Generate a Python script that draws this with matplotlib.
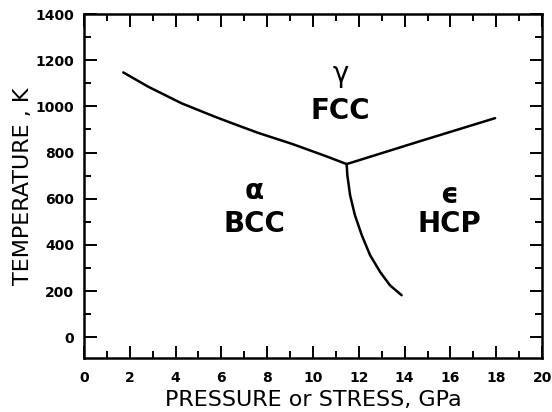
import matplotlib.pyplot as plt
from matplotlib.ticker import MultipleLocator

# phase boundaries (GPa, K)
alpha_gamma_p = [1.72, 2.81, 4.27, 5.72, 6.52, 7.61, 9.07, 10.52, 11.47]
alpha_gamma_t = [1147, 1085, 1013, 955, 925, 885, 838, 786, 750]

gamma_eps_p = [11.47, 14.7, 17.95]
gamma_eps_t = [750, 850, 949]

alpha_eps_p = [11.47, 11.50, 11.62, 11.83, 12.13, 12.49, 12.93, 13.36, 13.87]
alpha_eps_t = [750, 702, 615, 529, 442, 356, 283, 225, 182]

# phase labels: (symbol, structure, pressure, T symbol, T structure)
phases = [
    ('γ', 'FCC', 11.2, 1140, 980),
    ('α', 'BCC', 7.45, 635, 490),
    ('ϵ', 'HCP', 15.95, 615, 490),
]


def main():
    fig = plt.figure(figsize=(5.52, 4.12), dpi=100)
    ax = fig.add_axes([0.152, 0.131, 0.830, 0.835])

    for p, t in [(alpha_gamma_p, alpha_gamma_t),
                 (gamma_eps_p, gamma_eps_t),
                 (alpha_eps_p, alpha_eps_t)]:
        ax.plot(p, t, color='black', lw=1.8, solid_capstyle='round',
                solid_joinstyle='round')

    for sym, name, p, t_sym, t_name in phases:
        ax.text(p, t_sym, sym, fontsize=20,
                fontweight='normal' if sym == 'γ' else 'bold',
                ha='center', va='center')
        ax.text(p, t_name, name, fontsize=20, fontweight='bold',
                ha='center', va='center')

    ax.set_xlim(0, 20)
    ax.set_ylim(-90, 1400)
    ax.xaxis.set_major_locator(MultipleLocator(2))
    ax.xaxis.set_minor_locator(MultipleLocator(1))
    ax.yaxis.set_major_locator(MultipleLocator(200))
    ax.yaxis.set_minor_locator(MultipleLocator(100))

    ax.tick_params(which='both', direction='in', top=True, right=True,
                   width=1.4, labelsize=10)
    ax.tick_params(which='major', length=9)
    ax.tick_params(which='minor', length=5)
    ax.tick_params(axis='x', pad=9)
    ax.tick_params(axis='y', pad=7)
    for lab in ax.get_xticklabels() + ax.get_yticklabels():
        lab.set_fontweight('bold')
    for sp in ax.spines.values():
        sp.set_linewidth(1.8)

    ax.set_xlabel('PRESSURE or STRESS, GPa', fontsize=16, labelpad=4)
    ax.set_ylabel('TEMPERATURE , K', fontsize=16, labelpad=2)

    fig.savefig('out.png', dpi=100)


if __name__ == '__main__':
    main()
